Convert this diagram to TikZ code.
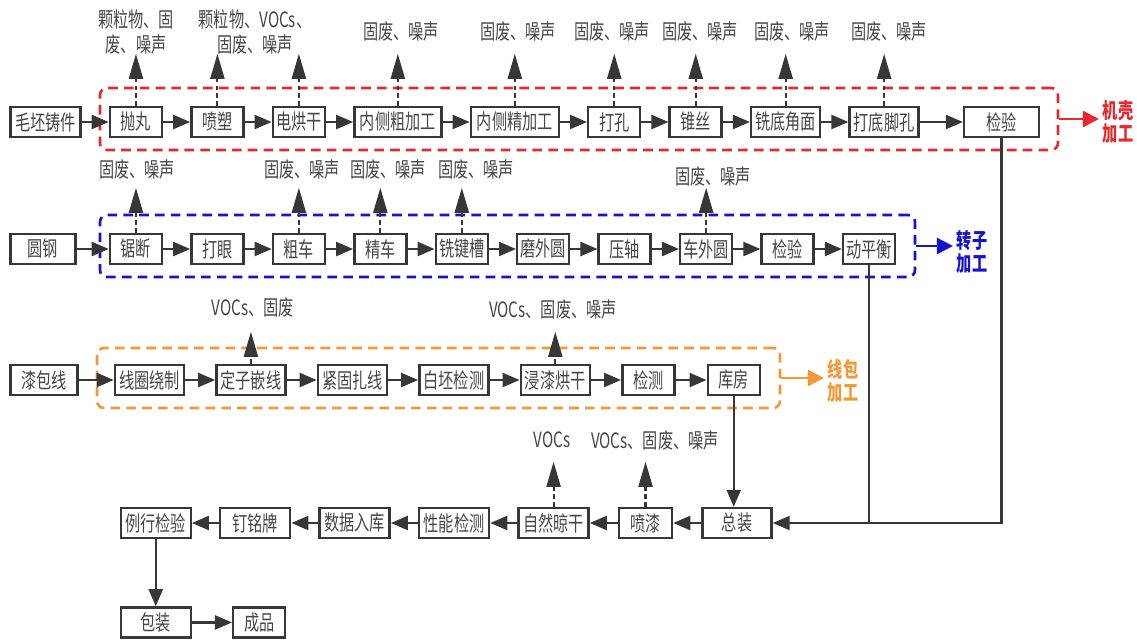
\documentclass[tikz,border=0pt]{standalone}
\usepackage{fontspec}
\setmainfont{Noto Sans CJK SC}[FakeStretch=0.72]
\usetikzlibrary{positioning,arrows.meta,calc}
\definecolor{boxcol}{RGB}{55,55,55}
\definecolor{txtcol}{RGB}{70,70,70}
\definecolor{jkcol}{RGB}{232,40,45}
\definecolor{zzcol}{RGB}{20,20,205}
\definecolor{xbcol}{RGB}{242,152,52}

\begin{document}
\begin{tikzpicture}[
    font=\fontsize{12}{14}\selectfont,
    box/.style={draw=boxcol, line width=1.4pt, fill=white, text=txtcol,
                minimum height=0.6cm, minimum width=#1, inner sep=1pt},
    box/.default=1.04cm,
    grp/.style={draw=#1, line width=1.5pt, dash pattern=on 5.5pt off 3.5pt,
                rounded corners=4pt},
    grplab/.style={text=#1, font=\fontsize{12}{13}\selectfont\bfseries,
                   align=center, inner sep=2pt},
    grparr/.style={draw=#1, line width=1.4pt, -{Triangle[length=0.32cm,width=0.32cm]}},
    flow/.style={draw=boxcol, line width=1.3pt, -{Triangle[length=0.34cm,width=0.28cm]}},
    link/.style={draw=boxcol, line width=1.3pt},
    emit/.style={draw=boxcol, line width=1.2pt, dash pattern=on 2.5pt off 2pt,
                 -{Triangle[length=0.5cm,width=0.28cm]}},
    emlab/.style={text=txtcol, align=center, inner sep=0pt},
]
\useasboundingbox (0,0) rectangle (22.74,-12.78);

% ---- Groups ----
\node[grp=jkcol, minimum width=19.16cm, minimum height=1.24cm] (jk) at (11.58,-2.38) {};
\node[grp=zzcol, minimum width=16.3cm, minimum height=1.24cm] (zz) at (10.15,-4.92) {};
\node[grp=xbcol, minimum width=13.66cm, minimum height=1.2cm] (xb) at (8.77,-7.56) {};

% ---- Row 1: housing ----
\node[box=1.4cm] (m0) at (0.91,-2.44) {毛坯铸件};
\node[box, right=0.54cm of m0] (m1) {抛丸};
\node[box, right=0.54cm of m1] (m2) {喷塑};
\node[box, right=0.54cm of m2] (m3) {电烘干};
\node[box=1.74cm, right=0.54cm of m3] (m4) {内侧粗加工};
\node[box=1.76cm, right=0.54cm of m4] (m5) {内侧精加工};
\node[box, right=0.54cm of m5] (m6) {打孔};
\node[box, right=0.54cm of m6] (m7) {锥丝};
\node[box=1.38cm, right=0.54cm of m7] (m8) {铣底角面};
\node[box=1.38cm, right=0.54cm of m8] (m9) {打底脚孔};
\node[box=1.5cm, right=0.86cm of m9] (m10) {检验};

% ---- Row 2: rotor ----
\node[box=1.3cm] (r0) at (0.86,-4.98) {圆钢};
\node[box, right=0.64cm of r0] (r1) {锯断};
\node[box, right=0.54cm of r1] (r2) {打眼};
\node[box, right=0.54cm of r2] (r3) {粗车};
\node[box, right=0.54cm of r3] (r4) {精车};
\node[box, right=0.54cm of r4] (r5) {铣键槽};
\node[box, right=0.54cm of r5] (r6) {磨外圆};
\node[box, right=0.54cm of r6] (r7) {压轴};
\node[box, right=0.54cm of r7] (r8) {车外圆};
\node[box, right=0.54cm of r8] (r9) {检验};
\node[box, right=0.54cm of r9] (r10) {动平衡};

% ---- Row 3: coil ----
\node[box=1.34cm] (c0) at (0.88,-7.6) {漆包线};
\node[box=1.38cm, right=0.7cm of c0] (c1) {线圈绕制};
\node[box=1.38cm, right=0.6cm of c1] (c2) {定子嵌线};
\node[box=1.38cm, right=0.6cm of c2] (c3) {紧固扎线};
\node[box=1.38cm, right=0.6cm of c3] (c4) {白坯检测};
\node[box=1.38cm, right=0.6cm of c4] (c5) {浸漆烘干};
\node[box, right=0.6cm of c5] (c6) {检测};
\node[box, right=0.62cm of c6] (c7) {库房};

% ---- Assembly ----
\node[box=1.38cm] (a1) at (14.74,-10.46) {总装};
\node[box=1.06cm, left=0.56cm of a1] (a2) {喷漆};
\node[box=1.4cm, left=0.56cm of a2] (a3) {自然晾干};
\node[box=1.4cm, left=0.54cm of a3] (a4) {性能检测};
\node[box=1.4cm, left=0.54cm of a4] (a5) {数据入库};
\node[box=1.4cm, left=0.54cm of a5] (a6) {钉铭牌};
\node[box=1.4cm, left=0.54cm of a6] (a7) {例行检验};
\node[box=1.4cm, below=1.34cm of a7] (p1) {包装};
\node[box, right=0.8cm of p1] (p2) {成品};

% ---- Flow ----
\foreach \a/\b in {m0/m1,m1/m2,m2/m3,m3/m4,m4/m5,m5/m6,m6/m7,m7/m8,m8/m9,m9/m10,
                   r0/r1,r1/r2,r2/r3,r3/r4,r4/r5,r5/r6,r6/r7,r7/r8,r8/r9,r9/r10,
                   c0/c1,c1/c2,c2/c3,c3/c4,c4/c5,c5/c6,c6/c7,
                   a1/a2,a2/a3,a3/a4,a4/a5,a5/a6,a6/a7,a7/p1,p1/p2}
  \draw[flow] (\a) -- (\b);
\draw[flow] (m10.south) |- (a1.east);
\draw[link] (r10.south) -- (r10.south |- a1.east);
\draw[flow] (c7.south) -- (c7.south |- a1.north);

% ---- Group labels ----
\node[grplab=jkcol] (jklab) at (22.36,-2.44) {机壳\\加工};
\node[grplab=zzcol] (zzlab) at (19.44,-5.04) {转子\\加工};
\node[grplab=xbcol] (xblab) at (16.86,-7.62) {线包\\加工};
\draw[grparr=jkcol] (jk.east) -- (jk.east -| jklab.west);
\draw[grparr=zzcol] (zz.east) -- (zz.east -| zzlab.west);
\draw[grparr=xbcol] (xb.east) -- (xb.east -| xblab.west);

% ---- Emissions ----
\foreach \n in {1,...,9}
  \draw[emit] (m\n.north) -- ($(m\n.north)+(0,1.04)$);
\foreach \n in {1,3,4,5,8}
  \draw[emit] (r\n.north) -- ($(r\n.north)+(0,0.9)$);
\foreach \n in {c2,c5}
  \draw[emit] (\n.north) -- ($(\n.north)+(0,0.64)$);
\foreach \n in {a2,a3}
  \draw[emit] (\n.north) -- ($(\n.north)+(0,0.9)$);

\node[emlab] (e1) at (2.72,-0.64) {颗粒物、固\\废、噪声};
\node[emlab] (e2) at (5.1,-0.64) {颗粒物、VOCs、\\固废、噪声};
\node[emlab] (e3) at (8.02,-0.64) {固废、噪声};
\node[emlab] (e4) at (10.36,-0.64) {固废、噪声};
\node[emlab] (e5) at (12.24,-0.64) {固废、噪声};
\node[emlab] (e6) at (14.0,-0.64) {固废、噪声};
\node[emlab] (e7) at (15.84,-0.64) {固废、噪声};
\node[emlab] (e8) at (17.78,-0.64) {固废、噪声};
\node[emlab] (e9) at (2.74,-3.4) {固废、噪声};
\node[emlab] (e10) at (6.04,-3.4) {固废、噪声};
\node[emlab] (e11) at (7.76,-3.4) {固废、噪声};
\node[emlab] (e12) at (9.52,-3.4) {固废、噪声};
\node[emlab] (e13) at (14.26,-3.54) {固废、噪声};
\node[emlab] (e14) at (5.06,-6.16) {VOCs、固废};
\node[emlab] (e15) at (11.06,-6.2) {VOCs、固废、噪声};
\node[emlab] (e16) at (11.04,-8.8) {VOCs};
\node[emlab] (e17) at (13.1,-8.8) {VOCs、固废、噪声};

\end{tikzpicture}
\end{document}
